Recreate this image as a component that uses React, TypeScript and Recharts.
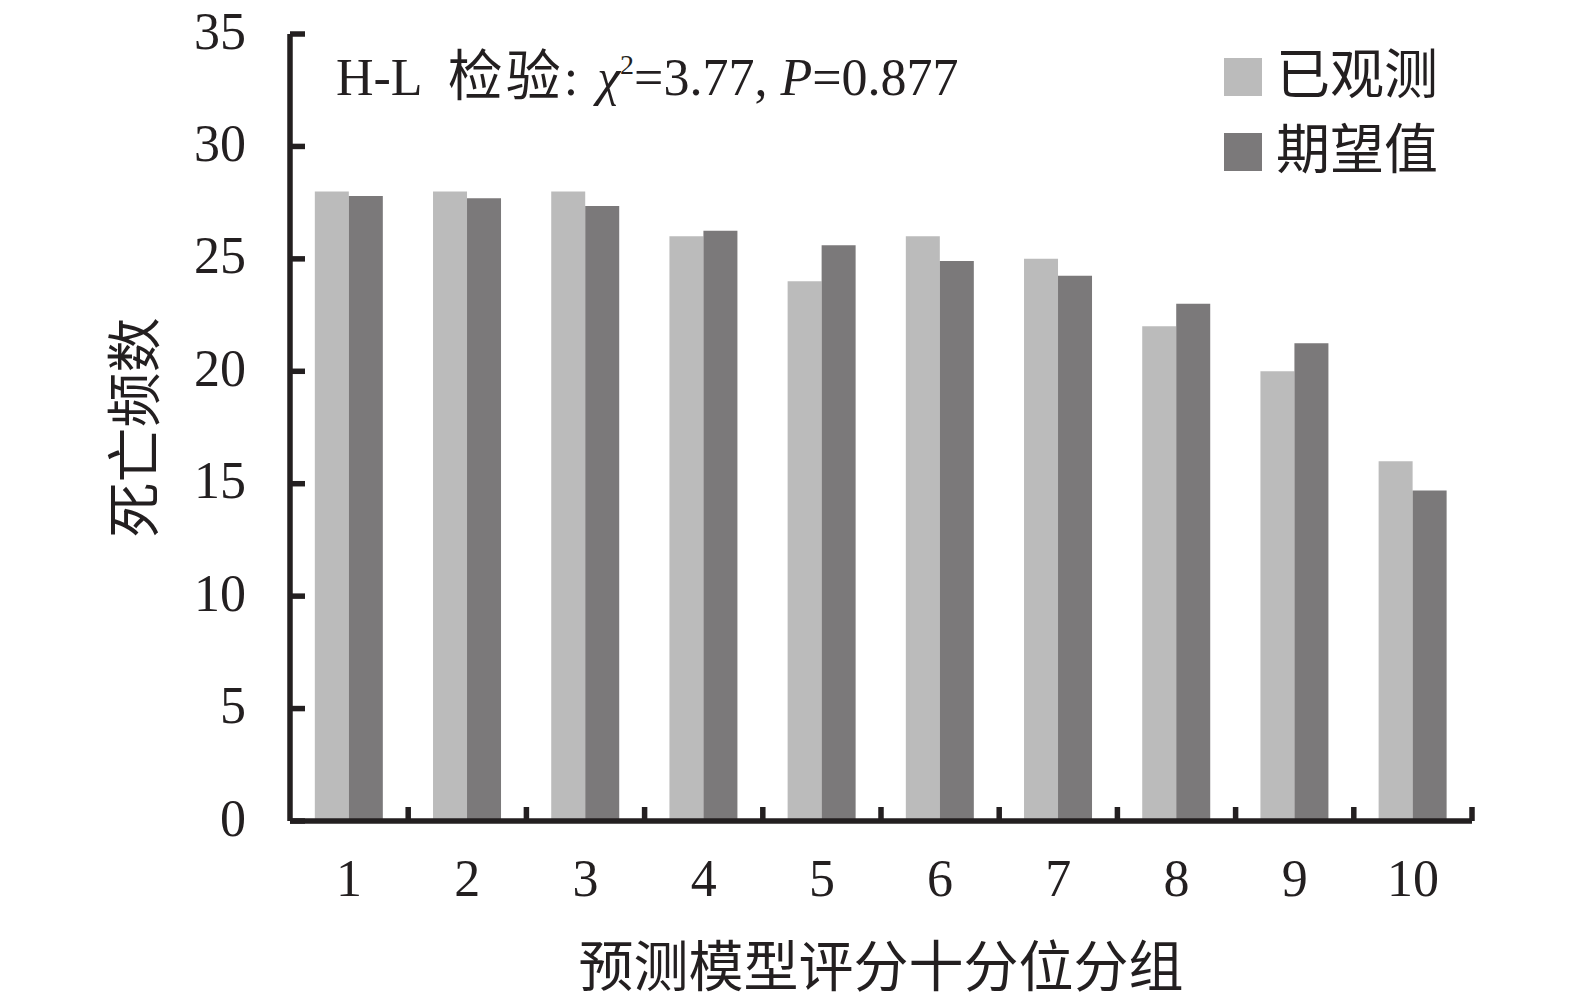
import React from "react";
import { Bar, BarChart, Label, Legend, XAxis, YAxis } from "recharts";

const groups = ["1", "2", "3", "4", "5", "6", "7", "8", "9", "10"];
const observed = [28, 28, 28, 26, 24, 26, 25, 22, 20, 16];
const expected = [27.8, 27.7, 27.35, 26.25, 25.6, 24.9, 24.25, 23.0, 21.25, 14.7];
const yTicks = [0, 5, 10, 15, 20, 25, 30, 35];
const seriesNames = ["已观测", "期望值"];

const data = groups.map((g, i) => ({ group: g, observed: observed[i], expected: expected[i] }));

const FONT = "'Liberation Serif', 'Noto Sans CJK SC', serif";
const INK = "#231f20";
const LIGHT = "#bbbbbb";
const DARK = "#7b797a";
const Y_MARGIN = 44;
const X_MARGIN = 38;
const AXIS_W = 5.5;

function YTick(props: any) {
  const { x, y, payload } = props;
  return (
    <g>
      <line x1={x + Y_MARGIN} x2={x + Y_MARGIN + 15} y1={y} y2={y} stroke={INK} strokeWidth={AXIS_W} />
      <text x={x} y={y} dy="0.28em" textAnchor="end" fontSize={52} fill={INK} fontFamily={FONT}>
        {payload.value}
      </text>
    </g>
  );
}

// label at the band centre, tick mark at the band's right edge
function XTick(props: any) {
  const { x, y, payload } = props;
  const half = payload && typeof payload.offset === "number" ? payload.offset : 0;
  const axisY = y - X_MARGIN;
  return (
    <g>
      {half > 0 && (
        <line x1={x + half} x2={x + half} y1={axisY} y2={axisY - 14} stroke={INK} strokeWidth={AXIS_W} />
      )}
      <text x={x} y={y} dy="0.71em" textAnchor="middle" fontSize={52} fill={INK} fontFamily={FONT}>
        {payload.value}
      </text>
    </g>
  );
}

function LegendBox(props: any) {
  const items = props.payload || [];
  return (
    <div style={{ display: "flex", flexDirection: "column", gap: 22, fontFamily: FONT }}>
      {items.map((it: any) => (
        <div key={it.value} style={{ display: "flex", alignItems: "center", height: 53 }}>
          <span style={{ width: 38, height: 38, background: it.color, marginRight: 14, display: "inline-block" }} />
          <span style={{ fontSize: 54, lineHeight: "53px", color: INK, whiteSpace: "nowrap" }}>{it.value}</span>
        </div>
      ))}
    </div>
  );
}

export default function App() {
  return (
    <div style={{ position: "absolute", left: 0, top: 0, width: 1575, height: 1000, background: "#fff", fontFamily: FONT }}>
      <BarChart
        width={1575}
        height={1000}
        data={data}
        margin={{ top: 34, right: 103, bottom: 0, left: 0 }}
        barCategoryGap="21%"
        barGap={0}
      >
        <XAxis
          dataKey="group"
          height={179}
          axisLine={{ stroke: INK, strokeWidth: AXIS_W }}
          tickLine={false}
          tickSize={0}
          tickMargin={X_MARGIN}
          tick={<XTick />}
          interval={0}
        >
          <Label value="预测模型评分十分位分组" position="insideBottom" offset={14} fontSize={55} fill={INK} fontFamily={FONT} />
        </XAxis>
        <YAxis
          width={290}
          domain={[0, 35]}
          ticks={yTicks}
          interval={0}
          axisLine={{ stroke: INK, strokeWidth: AXIS_W }}
          tickLine={false}
          tickSize={0}
          tickMargin={Y_MARGIN}
          tick={<YTick />}
        >
          <Label
            value="死亡频数"
            angle={-90}
            position="insideLeft"
            offset={134}
            textAnchor="middle"
            fontSize={55}
            fill={INK}
            fontFamily={FONT}
          />
        </YAxis>
        <Legend
          layout="vertical"
          align="center"
          verticalAlign="middle"
          wrapperStyle={{ left: 1224, top: 50, width: 260 }}
          content={<LegendBox />}
        />
        <Bar dataKey="observed" name={seriesNames[0]} fill={LIGHT} isAnimationActive={false} />
        <Bar dataKey="expected" name={seriesNames[1]} fill={DARK} isAnimationActive={false} />
      </BarChart>
      <div
        style={{
          position: "absolute",
          left: 336,
          top: 49,
          fontSize: 52,
          lineHeight: 1,
          color: INK,
          whiteSpace: "nowrap",
        }}
      >
        H-L <span style={{ fontSize: 55, marginLeft: 14, letterSpacing: 3 }}>检验</span>:{" "}
        <i style={{ marginLeft: 6 }}>χ</i>
        <sup style={{ fontSize: 28, verticalAlign: "0.75em", lineHeight: 0 }}>2</sup>=3.77, <i>P</i>=0.877
      </div>
    </div>
  );
}
